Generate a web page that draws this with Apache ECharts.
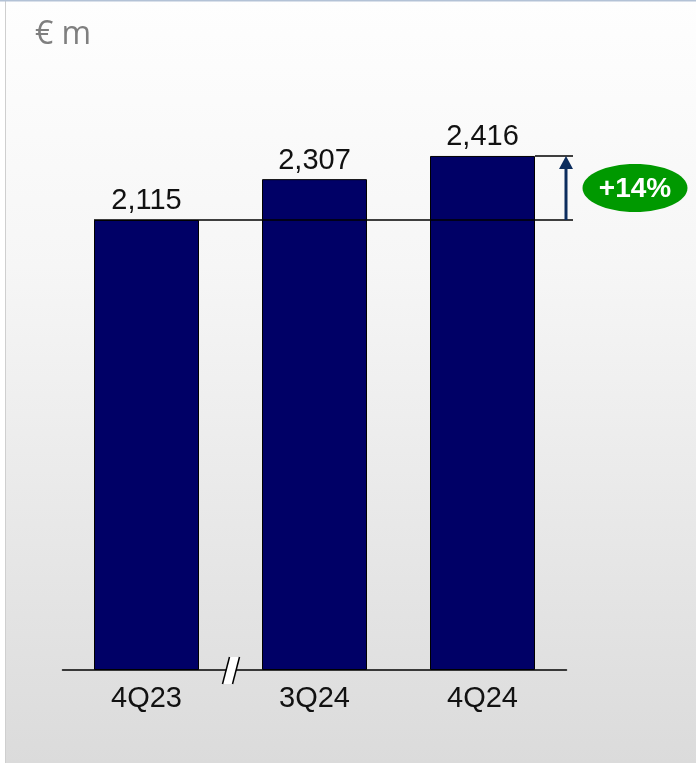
<!DOCTYPE html>
<html>
<head>
<meta charset="utf-8">
<script src="https://cdn.jsdelivr.net/npm/echarts@6/dist/echarts.min.js"></script>
<style>
  html, body { margin: 0; padding: 0; background: #fff; }
  #chart { width: 696px; height: 763px; }
</style>
</head>
<body>
<div id="chart"></div>
<script>
// Quarterly figures, € m
const categories = ['4Q23', '3Q24', '4Q24'];
const values = [2115, 2307, 2416];
const growthText = '+14%';
const unitText = '€ m';

const FONT = '"Liberation Sans", Arial, sans-serif';
const BAR_W = 105;
const NAVY = '#000066';

const chart = echarts.init(document.getElementById('chart'), null, { renderer: 'canvas' });

chart.setOption({
  animation: false,
  backgroundColor: {
    type: 'linear', x: 0, y: 0, x2: 0, y2: 1,
    colorStops: [
      { offset: 0, color: '#fefefe' },
      { offset: 0.35, color: '#f6f6f6' },
      { offset: 1, color: '#dbdbdb' }
    ]
  },
  grid: { left: 62.5, width: 504, top: 31.7, height: 638.3 },
  xAxis: {
    type: 'category',
    data: categories,
    axisLine: { show: true, lineStyle: { color: '#000', width: 1.5 } },
    axisTick: { show: false },
    axisLabel: { fontFamily: FONT, fontSize: 29, color: '#111', margin: 14 }
  },
  yAxis: { type: 'value', min: 0, max: 3000, show: false },
  series: [{
    type: 'bar',
    data: values,
    barWidth: BAR_W,
    itemStyle: { color: NAVY, borderColor: '#000', borderWidth: 1 },
    label: {
      show: true, position: 'top', distance: 4,
      fontFamily: FONT, fontSize: 29, color: '#111',
      formatter: p => p.value.toLocaleString('en-US')
    },
    z: 2
  }]
});

// Overlay: reference line, growth arrow, badge, axis break, unit caption
const base = values[0], last = values[values.length - 1];
const yBase = chart.convertToPixel({ yAxisIndex: 0 }, base);
const yLast = chart.convertToPixel({ yAxisIndex: 0 }, last);
const yZero = chart.convertToPixel({ yAxisIndex: 0 }, 0);
const x0 = chart.convertToPixel({ xAxisIndex: 0 }, categories[0]);
const x1 = chart.convertToPixel({ xAxisIndex: 0 }, categories[1]);
const x2 = chart.convertToPixel({ xAxisIndex: 0 }, categories[2]);
const xLeft = x0 - BAR_W / 2;
const xRight = x2 + BAR_W / 2;
const xArrow = xRight + 31;
const xLineEnd = xRight + 38;
const xBreak = ((x0 + BAR_W / 2) + (x1 - BAR_W / 2)) / 2;
const yMid = (yBase + yLast) / 2;
const ARROW = '#0c2d5e';

chart.setOption({
  graphic: [
    // frame edges
    { type: 'rect', shape: { x: 0, y: 0, width: 5, height: 763 }, style: { fill: '#ffffff' }, z: 1 },
    { type: 'rect', shape: { x: 5, y: 0, width: 1, height: 763 }, style: { fill: '#cfcfcf' }, z: 1 },
    { type: 'rect', shape: { x: 0, y: 0, width: 696, height: 1.5 }, style: { fill: '#b3c2d6' }, z: 1 },
    // unit caption
    { type: 'text', left: 35, top: 19,
      style: { text: unitText, font: '32px "Open Sans", sans-serif', fill: '#7f7f7f' }, z: 10 },
    // reference line at first value
    { type: 'line', shape: { x1: xLeft, y1: yBase, x2: xLineEnd, y2: yBase },
      style: { stroke: '#000', lineWidth: 1.5 }, z: 10 },
    // line at last value
    { type: 'line', shape: { x1: xRight, y1: yLast, x2: xLineEnd, y2: yLast },
      style: { stroke: '#000', lineWidth: 1.5 }, z: 10 },
    // arrow shaft + head
    { type: 'line', shape: { x1: xArrow, y1: yBase, x2: xArrow, y2: yLast + 10 },
      style: { stroke: ARROW, lineWidth: 3 }, z: 11 },
    { type: 'polygon', shape: { points: [[xArrow, yLast], [xArrow - 7, yLast + 13], [xArrow + 7, yLast + 13]] },
      style: { fill: ARROW }, z: 11 },
    // growth badge
    { type: 'ellipse', shape: { cx: xRight + 100, cy: yMid, rx: 52.5, ry: 24 },
      style: { fill: '#009900' }, z: 11 },
    { type: 'text', x: xRight + 100, y: yMid + 1,
      style: { text: growthText, font: 'bold 28px "Liberation Sans", Arial, sans-serif', fill: '#fff',
               align: 'center', verticalAlign: 'middle' }, z: 12 },
    // axis break
    { type: 'polygon',
      shape: { points: [[xBreak - 8, yZero + 14], [xBreak - 1, yZero - 13], [xBreak + 9, yZero - 13], [xBreak + 2, yZero + 14]] },
      style: { fill: '#ffffff' }, z: 12 },
    { type: 'line', shape: { x1: xBreak - 8, y1: yZero + 14, x2: xBreak - 1, y2: yZero - 13 },
      style: { stroke: '#000', lineWidth: 1.5 }, z: 13 },
    { type: 'line', shape: { x1: xBreak + 2, y1: yZero + 14, x2: xBreak + 9, y2: yZero - 13 },
      style: { stroke: '#000', lineWidth: 1.5 }, z: 13 }
  ]
});
</script>
</body>
</html>
